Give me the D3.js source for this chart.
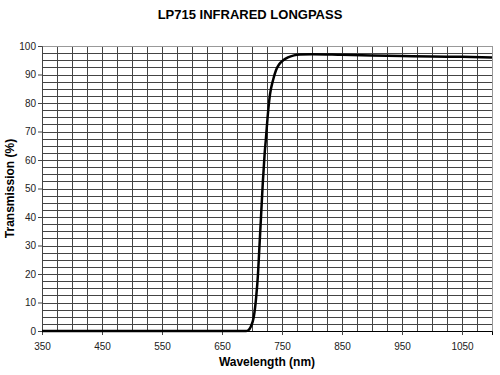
<!DOCTYPE html>
<html>
<head>
<meta charset="utf-8">
<script src="https://cdn.jsdelivr.net/npm/d3@7"></script>
<style>
  body { margin: 0; background: #fff; }
  text { font-family: "Liberation Sans", Arial, sans-serif; }
</style>
</head>
<body>
<svg width="500" height="375"></svg>
<script>
// wavelength (nm) and transmission (%)
const wavelength = [350, 600, 690, 694, 698, 703, 707, 710, 712, 715, 718, 721, 723, 726, 730, 735, 740, 745, 752, 760, 770, 780, 800, 850, 900, 950, 1000, 1050, 1100];
const transmission = [0, 0, 0, 0.3, 1.5, 5, 12, 20, 28, 40, 52, 62, 67, 75, 83, 88, 91.5, 93.5, 95, 96, 96.7, 97, 97.1, 96.9, 96.7, 96.5, 96.3, 96.2, 96];
const xTicks = [350, 450, 550, 650, 750, 850, 950, 1050];
const yTicks = [0, 10, 20, 30, 40, 50, 60, 70, 80, 90, 100];

const data = wavelength.map((w, i) => ({ w, t: transmission[i] }));

const svg = d3.select("svg");
const margin = { top: 46, left: 42, right: 8, bottom: 44 };
const width = +svg.attr("width");
const height = +svg.attr("height");

const x = d3.scaleLinear().domain([350, 1100]).range([margin.left, width - margin.right]);
const y = d3.scaleLinear().domain([0, 100]).range([height - margin.bottom, margin.top]);

// grid: every 25 nm and every 2.5 %
const grid = svg.append("g").attr("stroke", "#444").attr("stroke-width", 1).attr("shape-rendering", "crispEdges");
grid.selectAll("line.v")
  .data(d3.range(375, 1100, 25))
  .join("line")
  .attr("x1", d => Math.round(x(d)) + 0.5).attr("x2", d => Math.round(x(d)) + 0.5)
  .attr("y1", y(100)).attr("y2", y(0));
grid.selectAll("line.h")
  .data(d3.range(2.5, 100, 2.5))
  .join("line")
  .attr("class", "h")
  .attr("x1", x(350)).attr("x2", x(1100))
  .attr("y1", d => Math.round(y(d)) + 0.5).attr("y2", d => Math.round(y(d)) + 0.5);

// outer frame
svg.append("rect")
  .attr("x", x(350) + 0.5).attr("y", y(100) + 0.5)
  .attr("width", x(1100) - x(350)).attr("height", y(0) - y(100))
  .attr("fill", "none").attr("stroke", "#999").attr("shape-rendering", "crispEdges");

// axes
svg.append("g")
  .attr("transform", `translate(0,${y(0)})`)
  .call(d3.axisBottom(x).tickValues(xTicks).tickSize(4).tickPadding(8).tickFormat(d3.format("d")))
  .call(g => g.select(".domain").attr("stroke", "#000"))
  .call(g => g.selectAll(".tick line").attr("stroke", "#444"))
  .call(g => g.selectAll("text").attr("font-size", 10).attr("fill", "#222"));

svg.append("g")
  .attr("transform", `translate(${x(350)},0)`)
  .call(d3.axisLeft(y).tickValues(yTicks).tickSize(4).tickPadding(2))
  .call(g => g.select(".domain").attr("stroke", "#444"))
  .call(g => g.selectAll(".tick line").attr("stroke", "#444"))
  .call(g => g.selectAll("text").attr("font-size", 10).attr("fill", "#222"));

// curve
svg.append("path")
  .datum(data)
  .attr("fill", "none")
  .attr("stroke", "#000")
  .attr("stroke-width", 2.5)
  .attr("stroke-linejoin", "round")
  .attr("d", d3.line().x(d => x(d.w)).y(d => y(d.t)).curve(d3.curveMonotoneX));

// titles
svg.append("text")
  .attr("x", 250).attr("y", 19)
  .attr("text-anchor", "middle")
  .attr("font-size", 13).attr("font-weight", "bold")
  .text("LP715 INFRARED LONGPASS");

svg.append("text")
  .attr("x", (x(350) + x(1100)) / 2).attr("y", 366)
  .attr("text-anchor", "middle")
  .attr("font-size", 12).attr("font-weight", "bold")
  .text("Wavelength (nm)");

svg.append("text")
  .attr("transform", `translate(14,${(y(0) + y(100)) / 2}) rotate(-90)`)
  .attr("text-anchor", "middle")
  .attr("font-size", 12).attr("font-weight", "bold")
  .text("Transmission (%)");
</script>
</body>
</html>
